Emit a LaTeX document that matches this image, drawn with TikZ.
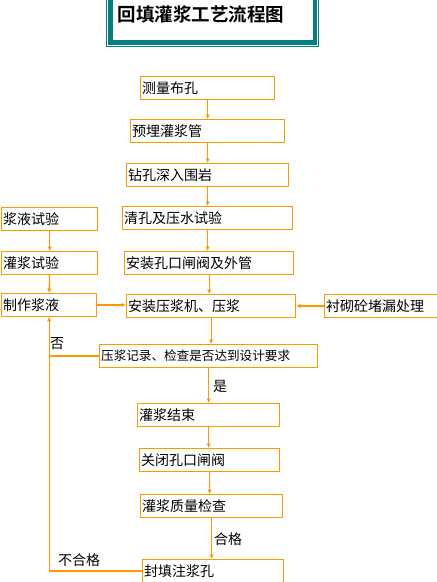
\documentclass[tikz,border=0pt]{standalone}
\usepackage{fontspec}
\newfontfamily\cjk{Noto Sans CJK SC}
\newfontfamily\cjkbold{Noto Sans CJK SC Bold}
\usetikzlibrary{arrows.meta}
\definecolor{floworange}{HTML}{FF9900}
\definecolor{titleteal}{HTML}{008080}

\begin{document}
\begin{tikzpicture}[
    x=1pt, y=-1pt,
    every node/.style={font=\cjk\fontsize{14}{16}\selectfont},
    procbox/.style={draw=floworange, line width=1.3pt, anchor=north west,
        inner xsep=1.5pt, inner ysep=0pt, minimum height=22.5pt, align=left},
    flow/.style={draw=floworange, line width=1.3pt},
    >={Latex[length=4.5pt,width=4.5pt]}
]
\useasboundingbox (0,0) rectangle (437,582);

% ===== TITLE =====
\draw[titleteal, line width=0.8pt] (106.4,-5) rectangle (318.4,46.6);
\draw[titleteal, line width=4.5pt] (110.5,-5) rectangle (314.8,42.3);
\node[font=\cjkbold\fontsize{18.5}{20}\selectfont, anchor=west] (title) at (114,14) {回填灌浆工艺流程图};

% ===== MAIN COLUMN =====
\node[procbox, text width=131pt] (survey) at (140,76) {测量布孔};
\node[procbox, text width=151pt] (pipe) at (130,119) {预埋灌浆管};
\node[procbox, text width=159pt] (drill) at (126,163) {钻孔深入围岩};
\node[procbox, text width=167pt] (flush) at (122,206) {清孔及压水试验};
\node[procbox, text width=166pt] (valve) at (124,251) {安装孔口闸阀及外管};
\node[procbox, text width=166pt] (pump) at (126,294) {安装压浆机、压浆};
\node[procbox, text width=215pt, font=\cjk\fontsize{12.6}{14}\selectfont] (record) at (99,344) {压浆记录、检查是否达到设计要求};
\node[procbox, text width=139pt] (groutend) at (137,403) {灌浆结束};
\node[procbox, text width=137pt] (closevalve) at (139,448) {关闭孔口闸阀};
\node[procbox, text width=139pt] (qualitycheck) at (140,494) {灌浆质量检查};
\node[procbox, text width=138pt] (sealhole) at (142,559) {封填注浆孔};

% ===== SIDE BOXES =====
\node[procbox, text width=93pt] (slurrytest) at (1,207) {浆液试验};
\node[procbox, text width=93pt] (grouttest) at (1,251) {灌浆试验};
\node[procbox, text width=92pt] (mixslurry) at (1,293) {制作浆液};
\node[procbox, text width=127pt] (leakfix) at (324,294) {衬砌砼堵漏处理};

% --- main flow ---
\draw[flow, ->] (survey.south) -- (survey.south |- pipe.north);
\draw[flow, ->] (pipe.south) -- (pipe.south |- drill.north);
\draw[flow, ->] (drill.south) -- (drill.south |- flush.north);
\draw[flow, ->] (flush.south) -- (flush.south |- valve.north);
\draw[flow, ->] (valve.south) -- (valve.south |- pump.north);
\draw[flow, ->] (pump.south) -- (pump.south |- record.north);
\draw[flow, ->] (record.south) -- (record.south |- groutend.north);
\draw[flow, ->] (groutend.south) -- (groutend.south |- closevalve.north);
\draw[flow, ->] (closevalve.south) -- (closevalve.south |- qualitycheck.north);
\draw[flow, ->] (qualitycheck.south) -- (qualitycheck.south |- sealhole.north);

% --- side flow ---
\draw[flow, ->] (slurrytest) -- (grouttest);
\draw[flow, ->] (grouttest) -- (mixslurry);
\draw[flow, ->] (mixslurry.east) -- (mixslurry.east -| pump.west);
\draw[flow, ->] (leakfix.west) -- (leakfix.west -| pump.east);

% --- return loops ---
\draw[flow] (record.west) -- (record.west -| mixslurry.south);
\draw[flow, ->] (sealhole.west) -- (sealhole.west -| mixslurry.south) -- (mixslurry.south);

% --- labels ---
\node[anchor=west, inner sep=0pt] (yeslabel) at (213,386) {是};
\node[anchor=west, inner sep=0pt] (nolabel) at (50,344) {否};
\node[anchor=west, inner sep=0pt] (passlabel) at (214,539) {合格};
\node[anchor=west, inner sep=0pt] (faillabel) at (58,560) {不合格};

\end{tikzpicture}
\end{document}
